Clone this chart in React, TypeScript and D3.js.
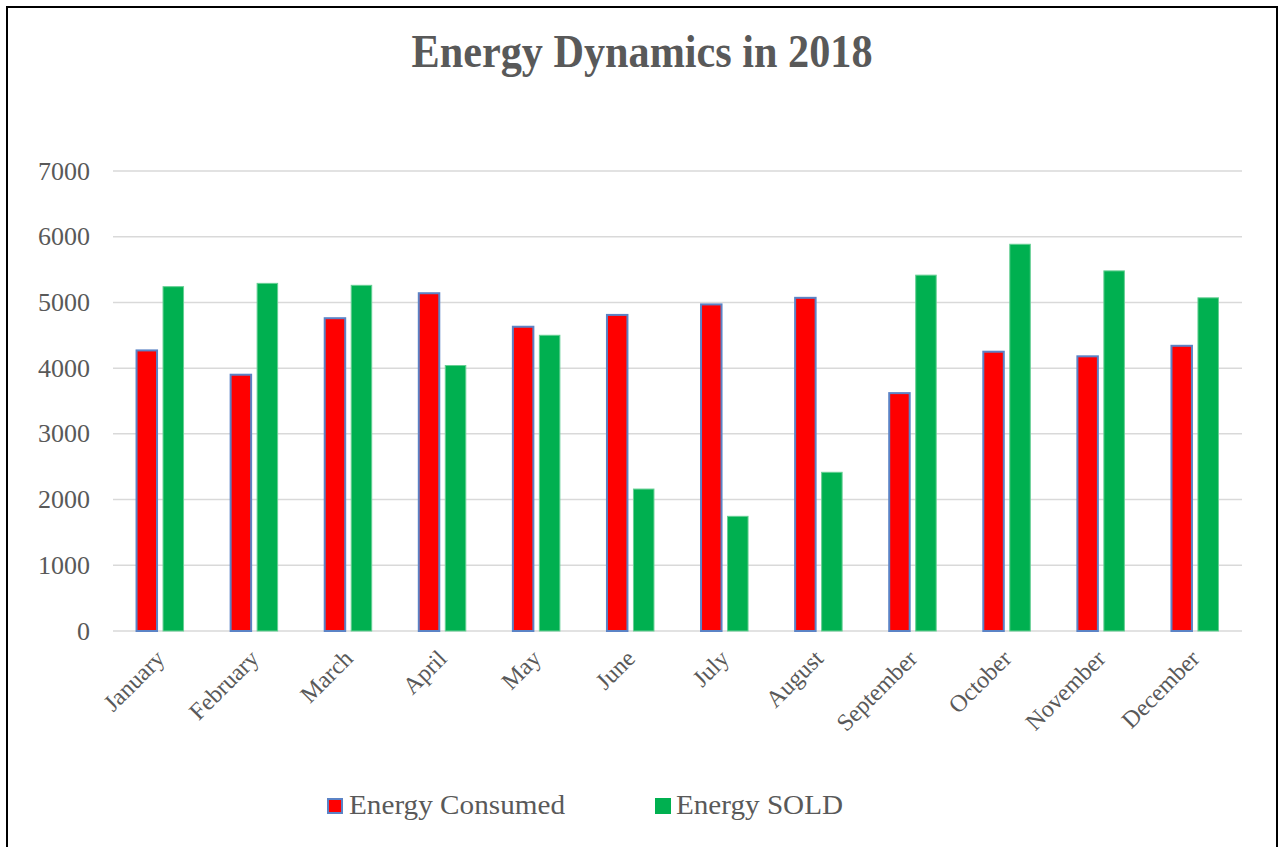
import React from "react";
import { scaleBand, scaleLinear } from "d3";

const months = ["January", "February", "March", "April", "May", "June", "July", "August", "September", "October", "November", "December"];
const consumed = [4270, 3900, 4760, 5140, 4630, 4810, 4970, 5070, 3620, 4250, 4180, 4340];
const sold = [5240, 5290, 5260, 4040, 4500, 2160, 1745, 2415, 5415, 5885, 5480, 5070];
const yTicks = [0, 1000, 2000, 3000, 4000, 5000, 6000, 7000];
const seriesNames = ["Energy Consumed", "Energy SOLD"];

const colors = { red: "#FF0000", green: "#00B050", edge: "#5B83C6", grid: "#D9D9D9", text: "#595959" };
const font = "'Liberation Serif', 'Times New Roman', serif";

const App = () => {
  const left = 113;
  const right = 1242;
  const top = 171;
  const bottom = 631;

  const x0 = scaleBand().domain(months).range([left, right]).padding(0);
  const yScale = scaleLinear().domain([0, 7000]).range([bottom, top]);

  const bars = months.map((m, i) => {
    const cx = x0(m) + x0.bandwidth() / 2;
    const x1 = scaleBand().domain(seriesNames).range([cx - 23.5, cx + 23.5]).paddingInner(0.2264);
    return { m, cx, x1, c: consumed[i], s: sold[i] };
  });

  return (
    <svg width={1280} height={847} style={{ position: "absolute", left: 0, top: 0, background: "#fff" }}>
      <rect x={7} y={7} width={1270} height={860} fill="#fff" stroke="#000" strokeWidth={2} />

      {/* title */}
      <text x={642} y={67} textAnchor="middle" fontFamily={font} fontWeight="bold" fontSize={46}
        fill={colors.text} textLength={461} lengthAdjust="spacingAndGlyphs">
        Energy Dynamics in 2018
      </text>

      {/* gridlines + y labels */}
      {yTicks.map((t) => (
        <g key={t}>
          <line x1={left} x2={right} y1={yScale(t)} y2={yScale(t)} stroke={colors.grid} strokeWidth={1.5} />
          <text x={90} y={yScale(t) + 8.5} textAnchor="end" fontFamily={font} fontSize={26} fill={colors.text}>
            {t}
          </text>
        </g>
      ))}

      {/* bars */}
      {bars.map((d) => (
        <g key={d.m}>
          <rect x={d.x1("Energy Consumed")} y={yScale(d.c)} width={d.x1.bandwidth()} height={bottom - yScale(d.c)}
            fill={colors.red} stroke={colors.edge} strokeWidth={2} />
          <rect x={d.x1("Energy SOLD")} y={yScale(d.s)} width={d.x1.bandwidth()} height={bottom - yScale(d.s)}
            fill={colors.green} stroke="#66CF94" strokeWidth={1} />
        </g>
      ))}

      {/* month labels */}
      {bars.map((d) => (
        <text key={d.m} transform={`translate(${d.cx + 6},${660}) rotate(-45)`} textAnchor="end"
          fontFamily={font} fontSize={24} fill={colors.text}>
          {d.m}
        </text>
      ))}

      {/* legend */}
      <rect x={328} y={799} width={14} height={14} fill={colors.red} stroke={colors.edge} strokeWidth={2} />
      <text x={349} y={814} fontFamily={font} fontSize={27} fill={colors.text} textLength={216} lengthAdjust="spacingAndGlyphs">
        {seriesNames[0]}
      </text>
      <rect x={655} y={798} width={16} height={16} fill={colors.green} />
      <text x={676} y={814} fontFamily={font} fontSize={27} fill={colors.text} textLength={167} lengthAdjust="spacingAndGlyphs">
        {seriesNames[1]}
      </text>
    </svg>
  );
};

export default App;
